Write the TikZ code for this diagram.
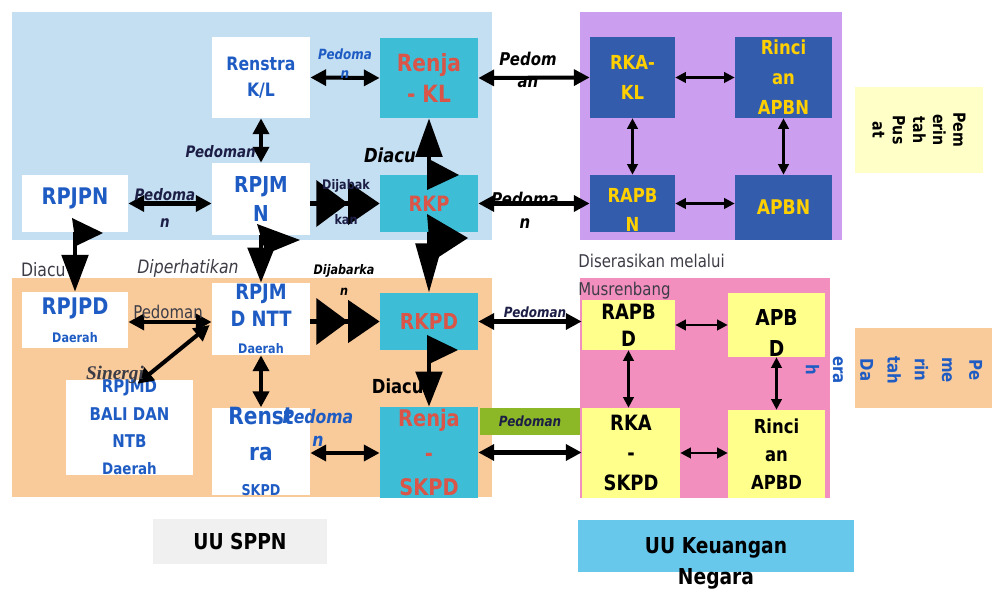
\documentclass[tikz,border=0pt]{standalone}
\usepackage{fontspec}
\setmainfont{DejaVu Sans}[FakeStretch=0.85]
\newfontfamily\serifbi{Liberation Serif}
\usetikzlibrary{arrows.meta}
\definecolor{bgblue}{RGB}{196,222,242}
\definecolor{bgpurple}{RGB}{204,158,240}
\definecolor{bgorange}{RGB}{249,202,154}
\definecolor{bgpink}{RGB}{243,143,190}
\definecolor{cteal}{RGB}{62,190,214}
\definecolor{cdark}{RGB}{52,92,172}
\definecolor{cyel}{RGB}{255,255,140}
\definecolor{cpale}{RGB}{255,255,200}
\definecolor{cgreen}{RGB}{140,184,40}
\definecolor{cuu}{RGB}{104,200,236}
\definecolor{cgray}{RGB}{240,240,240}
\definecolor{tblue}{RGB}{30,92,196}
\definecolor{tred}{RGB}{218,84,72}
\definecolor{tyel}{RGB}{255,208,0}
\definecolor{tnavy}{RGB}{28,30,70}
\definecolor{tgray}{RGB}{60,60,70}
\newcommand\fsz[2]{\fontsize{#1}{#2}\selectfont}
\begin{document}
\begin{tikzpicture}[x=0.02cm,y=-0.02cm,
  box/.style={rectangle, inner sep=0pt, align=center},
  lbl/.style={inner sep=0pt, align=center},
  arrM/.style={line width=2.3pt, arrows={Triangle[length=9pt,width=9pt]-Triangle[length=9pt,width=9pt]}},
  arrS/.style={line width=1.3pt, arrows={Triangle[length=6pt,width=6pt]-Triangle[length=6pt,width=6pt]}},
  bigone/.style={line width=2.5pt, arrows={-Triangle[length=#1,width=15pt]}},
  bigtwo/.style={line width=2.5pt, arrows={-Triangle[length=18pt,width=26pt]Triangle[length=18pt,width=24pt]}}
]
\useasboundingbox (0,0) rectangle (992,597);
\fill[white] (0,0) rectangle (992,597);
% backgrounds
\fill[bgblue] (12,12) rectangle (492,240);
\fill[bgpurple] (580,12) rectangle (842,240);
\fill[bgorange] (12,278) rectangle (492,497);
\fill[bgpink] (580,278) rectangle (830,498);

% top nodes
\node[box, fill=white, minimum width=1.96cm, minimum height=1.62cm, text=tblue, font=\bfseries\fsz{10.5}{15}] (renstrakl) at (261,77.5) {Renstra\\K/L};
\node[box, fill=cteal, minimum width=1.96cm, minimum height=1.6cm, text=tred, font=\bfseries\fsz{13.5}{18}] (renjakl) at (429,78) {Renja\\- KL};
\node[box, fill=white, minimum width=2.12cm, minimum height=1.14cm] (rpjpn) at (75,203.5) {};
\node[lbl, text=tblue, font=\bfseries\fsz{13}{15}] (rpjpntxt) at (75,198) {RPJPN};
\node[box, fill=white, minimum width=1.96cm, minimum height=1.44cm, text=tblue, font=\bfseries\fsz{12.5}{16}] (rpjmn) at (261,199) {RPJM\\N};
\node[box, fill=cteal, minimum width=1.96cm, minimum height=1.14cm, text=tred, font=\bfseries\fsz{12}{14}] (rkp) at (429,203.5) {RKP};
\node[box, fill=cdark, minimum width=1.7cm, minimum height=1.62cm, text=tyel, font=\bfseries\fsz{11}{17}] (rkakl) at (632.5,77.5) {RKA-\\KL};
\node[box, fill=cdark, minimum width=1.94cm, minimum height=1.62cm, text=tyel, font=\bfseries\fsz{11}{17}] (rincianapbn) at (783.5,77.5) {Rinci\\an\\APBN};
\node[box, fill=cdark, minimum width=1.7cm, minimum height=1.14cm] (rapbn) at (632.5,203.5) {};
\node[lbl, text=tyel, font=\bfseries\fsz{11}{17}] (rapbntxt) at (632.5,210) {RAPB\\N};
\node[box, fill=cdark, minimum width=1.94cm, minimum height=1.3cm, text=tyel, font=\bfseries\fsz{11.5}{14}] (apbn) at (783.5,207.5) {APBN};
\node[box, fill=cpale, minimum width=2.56cm, minimum height=1.72cm] (pusat) at (919,130) {};
\node[lbl, rotate=-90, font=\bfseries\fsz{9.5}{11.5}] (pusattxt) at (919,130) {Pem\\erin\\tah\\Pus\\at};

% bottom nodes
\node[box, fill=white, minimum width=2.12cm, minimum height=1.12cm, text=tblue, font=\bfseries\fsz{13}{16}] (rpjpd) at (75,320) {RPJPD\\{\fsz{7.5}{9}Daerah}};
\node[box, fill=white, minimum width=1.96cm, minimum height=1.44cm, text=tblue, font=\bfseries\fsz{12}{15.5}] (rpjmdntt) at (261,319) {RPJM\\D NTT\\{\fsz{7.5}{9}Daerah}};
\node[box, fill=cteal, minimum width=1.96cm, minimum height=1.14cm, text=tred, font=\bfseries\fsz{12.5}{14}] (rkpd) at (429,321.5) {RKPD};
\node[box, fill=white, minimum width=2.54cm, minimum height=1.42cm, text=tblue, font=\bfseries\fsz{10}{15.5}] (rpjmdbali) at (129.5,427.5) {RPJMD\\BALI DAN\\NTB\\{\fsz{9}{11}Daerah}};
\node[box, fill=white, minimum width=1.96cm, minimum height=1.14cm, text=tblue, font=\bfseries\fsz{13.5}{20}] (renstraskpd) at (261,451.5) {Renst\\ra\\{\fsz{8.5}{10}SKPD}};
\node[box, fill=cteal, minimum width=1.96cm, minimum height=1.82cm, text=tred, font=\bfseries\fsz{13}{19.5}] (renjaskpd) at (429,452.5) {Renja\\-\\SKPD};
\node[box, fill=cgreen, minimum width=2.0cm, minimum height=0.54cm, text=tnavy, font=\bfseries\itshape\fsz{8}{9}] (greenbar) at (530,421.5) {Pedoman};
\node[box, fill=cyel, minimum width=1.86cm, minimum height=1.0cm, font=\bfseries\fsz{12}{15.5}] (rapbd) at (628.5,325) {RAPB\\D};
\node[box, fill=cyel, minimum width=1.94cm, minimum height=1.28cm] (apbd) at (776.5,325) {};
\node[lbl, font=\bfseries\fsz{12.5}{18}] (apbdtxt) at (776.5,333) {APB\\D};
\node[box, fill=cyel, minimum width=1.96cm, minimum height=1.8cm, font=\bfseries\fsz{12}{17}] (rkaskpd) at (631,453) {RKA\\-\\SKPD};
\node[box, fill=cyel, minimum width=1.94cm, minimum height=1.76cm, font=\bfseries\fsz{11}{16}] (rincianapbd) at (776.5,454) {Rinci\\an\\APBD};
\node[box, fill=bgorange, minimum width=2.74cm, minimum height=1.6cm] (daerah) at (923.5,368) {};
\node[lbl, rotate=-90, text=tblue, font=\bfseries\fsz{10}{15.5}] (daerahtxt) at (894,370) {Pe\\me\\rin\\tah\\Da\\era\\h};

% bottom captions
\node[box, fill=cgray, minimum width=3.5cm, minimum height=0.9cm, font=\bfseries\fsz{12.5}{14}] (uusppn) at (240,542) {UU SPPN};
\node[box, fill=cuu, minimum width=5.54cm, minimum height=1.04cm] (uukeu) at (716,546) {};
\node[lbl, font=\bfseries\fsz{12.5}{18}, anchor=north] (uukeutxt) at (716,537) {UU Keuangan\\Negara};

\node[lbl, anchor=north west, text=tgray, font=\fsz{10}{16}, align=left] (diseras) at (578,254) {Diserasikan melalui\\Musrenbang};

% connectors top
\draw[arrM] (renstrakl.east) -- (renjakl.west);
\node[lbl, text=tblue, font=\bfseries\itshape\fsz{8}{11}] (l1) at (345,64) {Pedoma\\n};
\draw[arrM] (renjakl.east) -- (rkakl.west);
\node[lbl, text=black, font=\bfseries\itshape\fsz{10}{13}] (l2) at (528,70) {Pedom\\an};
\draw[arrS] (rkakl.east) -- (rincianapbn.west);
\draw[arrS] (rkakl.south) -- (rapbn.north);
\draw[arrS] (rincianapbn.south) -- (apbn.north);
\draw[arrS] (rapbn.east) -- (rapbn.east -| apbn.west);
\draw[arrM] (rkp.east) -- (rapbn.west);
\node[lbl, text=black, font=\bfseries\itshape\fsz{10}{13}] (l3) at (525,210) {Pedoma\\n};
\draw[arrM] (renstrakl.south) -- (rpjmn.north);
\node[lbl, text=tnavy, font=\bfseries\itshape\fsz{9}{11}, anchor=east] (l4) at (256,152) {Pedoman};
\draw[arrM] (rpjpn.east) -- (rpjpn.east -| rpjmn.west);
\node[lbl, text=tnavy, font=\bfseries\itshape\fsz{9}{15}] (l5) at (165,208) {Pedoma\\n};
\draw[bigtwo] (rpjmn.east |- rkp.west) -- (rkp.west);
\node[lbl, text=tnavy, font=\bfseries\fsz{7.5}{20}] (l6) at (346,202) {Dijabak\\kan};
\draw[bigone=22pt] (rkp.north) -- (renjakl.south);
\node[lbl, text=black, font=\bfseries\itshape\fsz{11}{13}] (l7) at (390,155) {Diacu};
\fill (427,158) -- (459,175) -- (427,190) -- cycle;

% vertical big down arrows
\draw[bigone=28pt] (rkp.south) -- (rkpd.north);
\fill (427,214) -- (468,238) -- (431,262) -- cycle;
\draw[bigone=21pt] (rpjpn.south) -- (rpjpd.north);
\fill (72,218) -- (103,233) -- (76,246) -- cycle;
\node[lbl, text=tgray, font=\fsz{10.5}{12}, anchor=east] (l8) at (66,270) {Diacu};
\draw[bigone=20pt] (rpjmn.south) -- (rpjmdntt.north);
\fill (257,224) -- (300,240) -- (266,254) -- cycle;
\node[lbl, text=tgray, font=\itshape\fsz{10.5}{12}] (l9) at (188,268) {Diperhatikan};
\draw[bigtwo] (rpjmdntt.east |- rkpd.west) -- (rkpd.west);
\node[lbl, text=black, font=\bfseries\itshape\fsz{7.5}{12}] (l10) at (344,280) {Dijabarka\\n};
\draw[bigone=20pt] (rkpd.south) -- (renjaskpd.north);
\fill (427,335) -- (458,350) -- (427,365) -- cycle;
\node[lbl, text=black, font=\bfseries\fsz{11}{13}, anchor=east] (l11) at (424,386) {Diacu};

% bottom connectors
\draw[arrM] (rkpd.east) -- (rkpd.east -| rapbd.west);
\node[lbl, text=tnavy, font=\bfseries\itshape\fsz{8}{9}] (l12) at (535,312) {Pedoman};
\draw[arrM] (renjaskpd.east) -- (renjaskpd.east -| rkaskpd.west);
\draw[arrS] (rapbd.east) -- (rapbd.east -| apbd.west);
\draw[arrS] (rapbd.south) -- (rapbd.south |- rkaskpd.north);
\draw[arrS] (apbd.south) -- (rincianapbd.north);
\draw[arrS] (rkaskpd.east |- 0,453) -- (rincianapbd.west |- 0,453);
\draw[arrM] (rpjpd.east |- 0,322) -- (rpjmdntt.west |- 0,322);
\node[lbl, text=tgray, font=\fsz{10}{12}] (l13) at (168,312) {Pedoman};
\draw[arrM] ([shift={(8,4)}]rpjmdbali.north) -- ([shift={(-2,6)}]rpjmdntt.west);
\node[lbl, text=tgray, font=\serifbi\bfseries\itshape\fsz{11}{12}] (l14) at (115,375) {Sinergi};
\draw[arrM] (rpjmdntt.south) -- (renstraskpd.north);
\draw[arrM] (renstraskpd.east |- 0,453) -- (renjaskpd.west |- 0,453);
\node[lbl, text=tblue, font=\bfseries\itshape\fsz{10.5}{13}] (l15) at (318,428) {Pedoma\\n};
\end{tikzpicture}
\end{document}
